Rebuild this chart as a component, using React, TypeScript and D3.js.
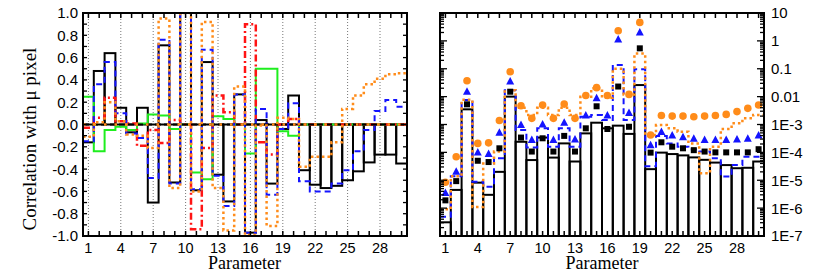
import React from 'react';
import * as d3 from 'd3';

// parameters 1..30, labelled every third one
const params = d3.range(1, 31);
const xTickLabels = [1, 4, 7, 10, 13, 16, 19, 22, 25, 28];
const yTickLabelsLeft = [1.0, 0.8, 0.6, 0.4, 0.2, 0.0, -0.2, -0.4, -0.6, -0.8, -1.0];
const yTickLabelsRight = ['10', '1', '0.1', '0.01', '1E-3', '1E-4', '1E-5', '1E-6', '1E-7'];

// left panel: correlation with mu pixel
const corrBlack = [-0.16, 0.48, 0.64, 0.15, -0.07, 0.15, -0.70, 0.71, -0.52, 1.0, -0.59, 0.56, -0.45, -0.69, 0.27,
  -0.97, 0.04, -0.53, -0.04, 0.26, -0.41, -0.54, -0.57, -0.55, -0.50, -0.42, -0.34, -0.27, -0.27, -0.35];
const corrBlue = [-0.15, 0.36, 0.56, 0.10, -0.08, -0.12, -0.48, 0.76, -0.53, 1.0, -0.58, 0.67, -0.46, -0.73, 0.27,
  -0.97, 0.14, -0.63, -0.04, 0.19, -0.51, -0.60, -0.60, -0.53, -0.41, -0.24, -0.05, 0.12, 0.22, 0.16];
const corrRed = [-0.03, 0.06, 0.24, 0.03, 0.01, -0.19, -0.05, -0.165, 0.04, 0.0, -0.94, -0.21, 0.26, 0.11, 0.0,
  0.90, -0.16, -0.27, 0.0, 0.05, 0.0, 0.0, 0.0, 0.0, 0.0, 0.0, 0.0, 0.0, 0.0, 0.0];
const corrGreen = [0.25, -0.24, -0.05, -0.02, -0.05, 0.01, 0.09, 0.08, -0.04, 0.0, -0.43, -0.49, 0.075, 0.05, 0.0,
  -0.26, 0.50, 0.50, -0.06, -0.10, 0.0, 0.0, 0.0, 0.0, 0.0, 0.0, 0.0, 0.0, 0.0, 0.0];
const corrOrange = [-0.11, 0.02, 0.20, 0.03, -0.09, -0.10, -0.21, 0.95, -0.57, 1.0, -0.60, 0.92, -0.57, -0.95, 0.34,
  -0.99, -0.01, -0.91, 0.06, 0.05, -0.38, -0.29, -0.29, -0.16, 0.14, 0.26, 0.36, 0.41, 0.45, 0.46];

// right panel: log values
const logBlack = [3.1e-7, 4.5e-6, 3.5e-3, 8.2e-6, 3.0e-6, 2.0e-5, 0.01, 2.4e-4, 5.3e-5, 3.4e-4, 6.5e-5, 2.1e-4, 4.7e-5, 4.8e-4, 1.16e-3,
  7.3e-4, 9.1e-4, 4.6e-4, 0.026, 2.5e-5, 9.8e-5, 8.7e-5, 7.8e-5, 6.6e-5, 5.4e-5, 4.3e-5, 3.5e-5, 2.7e-5, 2.8e-5, 4.7e-5];
const logBlue = [4.9e-7, 1.4e-5, 7.6e-3, 8.9e-6, 5.9e-6, 6.2e-5, 0.017, 6.3e-4, 1.5e-4, 7.3e-4, 1.6e-4, 7.3e-4, 1.6e-4, 1.9e-3, 2.2e-3,
  1.45e-3, 0.136, 1.45e-3, 0.095, 3.2e-5, 3.9e-4, 2.1e-4, 1.6e-4, 1.3e-4, 1.07e-4, 6.2e-5, 1.35e-5, 3.5e-5, 7.0e-5, 7.0e-5];
const logOrange = [9.1e-7, 1.4e-5, 7.8e-3, 1.1e-6, 4.0e-5, 1.07e-4, 0.017, 4.0e-3, 2.2e-3, 4.0e-3, 2.2e-3, 4.0e-3, 2.2e-3, 9.8e-3, 0.02,
  9.1e-3, 0.10, 0.012, 0.35, 4.2e-4, 9.6e-4, 7.3e-4, 5.5e-4, 2.1e-4, 1.8e-5, 1.6e-4, 6.9e-4, 1.1e-3, 1.66e-3, 2.2e-3];
const squares = [1.9e-6, 9.3e-6, 5.3e-3, 5.0e-5, 4.5e-5, 1.4e-4, 0.015, 3.4e-4, 1.07e-4, 3.2e-4, 1.07e-4, 3.9e-4, 1.07e-4, 7.3e-4, 4.5e-3,
  6.9e-4, 0.023, 8.3e-4, 0.54, 9.8e-5, 2.3e-4, 1.6e-4, 1.4e-4, 1.2e-4, 1.07e-4, 1.0e-4, 1.0e-4, 1.0e-4, 1.0e-4, 1.3e-4];
const triangles = [3.5e-6, 2.0e-5, 0.015, 9.8e-5, 8.7e-5, 5.1e-4, 0.035, 9.6e-4, 2.8e-4, 1.0e-3, 2.8e-4, 1.16e-3, 2.9e-4, 2.1e-3, 8.7e-3,
  2.1e-3, 1.13, 2.6e-3, 2.0, 1.8e-4, 5.4e-4, 4.0e-4, 3.5e-4, 3.1e-4, 2.8e-4, 2.8e-4, 2.8e-4, 2.9e-4, 3.1e-4, 4.0e-4];
const circles = [8.5e-6, 7.0e-5, 0.037, 2.1e-4, 2.2e-4, 1.4e-3, 0.078, 4.7e-3, 1.66e-3, 5.0e-3, 1.66e-3, 5.4e-3, 1.66e-3, 0.011, 0.021,
  0.011, 2.3, 0.012, 4.6, 4.2e-4, 2.1e-3, 2.0e-3, 2.0e-3, 1.9e-3, 2.0e-3, 2.1e-3, 2.3e-3, 2.9e-3, 3.8e-3, 5.0e-3];

const BLUE = '#1414ff';
const RED = '#ff1414';
const GREEN = '#1eee1e';
const ORANGE = '#ff8c1a';
const SANS = '"Liberation Sans", Arial, sans-serif';
const SERIF = '"Liberation Serif", "Times New Roman", serif';

const top = 13, bottom = 236;
const xL = d3.scaleLinear().domain([0.5, 30.5]).range([83, 407]);
const xR = d3.scaleLinear().domain([0.5, 30.5]).range([440, 764]);
const yL = d3.scaleLinear().domain([-1, 1]).range([bottom, top]);
const yR = d3.scaleLog().domain([1e-7, 10]).range([bottom, top]);

function stepPath(vals: number[], x: any, y: any) {
  const pts: [number, number][] = [];
  vals.forEach((v, i) => {
    pts.push([x(i + 0.5), y(v)], [x(i + 1.5), y(v)]);
  });
  return d3.line()(pts) as string;
}

function Frame({ x, y, ticksY, majorY }: any) {
  const [x0, x1] = x.range();
  const els: any[] = [];
  params.forEach((p) => {
    const len = 5;
    els.push(<line key={'xb' + p} x1={x(p)} x2={x(p)} y1={bottom} y2={bottom - len} stroke="#000" strokeWidth={1.5} />);
    els.push(<line key={'xt' + p} x1={x(p)} x2={x(p)} y1={top} y2={top + len} stroke="#000" strokeWidth={1.5} />);
  });
  ticksY.forEach((t: number, i: number) => {
    const len = majorY(t) ? 7 : 4;
    els.push(<line key={'yl' + i} x1={x0} x2={x0 + len} y1={y(t)} y2={y(t)} stroke="#000" strokeWidth={1.3} />);
    els.push(<line key={'yr' + i} x1={x1} x2={x1 - len} y1={y(t)} y2={y(t)} stroke="#000" strokeWidth={1.3} />);
  });
  return (
    <g>
      {els}
      <rect x={x0} y={top} width={x1 - x0} height={bottom - top} fill="none" stroke="#000" strokeWidth={2} />
    </g>
  );
}

export default function App() {
  const leftTicks = d3.range(-10, 11).map((d) => d / 10);
  const logTicks: number[] = [];
  for (let k = -7; k <= 1; k++) {
    for (let m = 1; m <= 9; m++) {
      const v = m * Math.pow(10, k);
      if (v <= 10.0001) logTicks.push(v);
    }
  }
  const isDecade = (v: number) => Math.abs(Math.log10(v) - Math.round(Math.log10(v))) < 1e-6;

  const barW = xL(1.5) - xL(0.5);

  return (
    <svg width={830} height={277} style={{ position: 'absolute', left: 0, top: 0, background: '#fff' }}>
      <defs>
        <clipPath id="clipL"><rect x={83} y={top} width={324} height={bottom - top} /></clipPath>
        <clipPath id="clipR"><rect x={440} y={top} width={324} height={bottom - top} /></clipPath>
      </defs>

      {/* ---- left panel ---- */}
      <g clipPath="url(#clipL)">
        {xTickLabels.map((p) => (
          <line key={'g' + p} x1={xL(p)} x2={xL(p)} y1={top} y2={bottom} stroke="#777" strokeWidth={1} strokeDasharray="1,2" />
        ))}
        {corrBlack.map((v, i) => (
          <rect key={'b' + i} x={xL(i + 0.5)} width={barW} y={Math.min(yL(v), yL(0))} height={Math.abs(yL(v) - yL(0))}
            fill="none" stroke="#000" strokeWidth={2} />
        ))}
        <path d={stepPath(corrGreen, xL, yL)} fill="none" stroke={GREEN} strokeWidth={2} />
        <path d={stepPath(corrRed, xL, yL)} fill="none" stroke={RED} strokeWidth={2.5} strokeDasharray="7,3,2,3" />
        <path d={stepPath(corrBlue, xL, yL)} fill="none" stroke={BLUE} strokeWidth={2} strokeDasharray="6,4" />
        <line x1={83} x2={407} y1={yL(0)} y2={yL(0)} stroke="#000" strokeWidth={2} strokeDasharray="6,3" />
        <path d={stepPath(corrOrange, xL, yL)} fill="none" stroke={ORANGE} strokeWidth={2.5} strokeDasharray="2.5,3" />
        <line x1={83} x2={407} y1={yL(0)} y2={yL(0)} stroke={ORANGE} strokeWidth={2.5} strokeDasharray="2.5,8" />
      </g>
      <Frame x={xL} y={yL} ticksY={leftTicks} majorY={() => false} />
      {yTickLabelsLeft.map((t) => (
        <text key={'yt' + t} x={78} y={yL(t)} dy="0.36em" textAnchor="end" fontFamily={SANS} fontSize={15}>
          {t.toFixed(1)}
        </text>
      ))}
      {xTickLabels.map((p) => (
        <text key={'xtl' + p} x={xL(p)} y={253} textAnchor="middle" fontFamily={SANS} fontSize={14.5}>{p}</text>
      ))}
      <text x={244.5} y={269} textAnchor="middle" fontFamily={SERIF} fontSize={18}>Parameter</text>
      <text transform="translate(36,139) rotate(-90)" textAnchor="middle" fontFamily={SERIF} fontSize={19}>
        Correlation with μ pixel
      </text>

      {/* ---- right panel ---- */}
      <g clipPath="url(#clipR)">
        {logBlack.map((v, i) => (
          <rect key={'rb' + i} x={xR(i + 0.5)} width={barW} y={yR(v)} height={bottom - yR(v)}
            fill="none" stroke="#000" strokeWidth={2} />
        ))}
        <path d={stepPath(logBlue, xR, yR)} fill="none" stroke={BLUE} strokeWidth={2} strokeDasharray="6,4" />
        <path d={stepPath(logOrange, xR, yR)} fill="none" stroke={ORANGE} strokeWidth={2.5} strokeDasharray="2.5,3" />
      </g>
      {circles.map((v, i) => (
        <circle key={'c' + i} cx={xR(i + 1)} cy={yR(v)} r={3.8} fill={ORANGE} />
      ))}
      {triangles.map((v, i) => {
        const cx = xR(i + 1), cy = yR(v);
        return <path key={'t' + i} d={`M${cx},${cy - 4.5}L${cx + 4},${cy + 3}L${cx - 4},${cy + 3}Z`} fill={BLUE} />;
      })}
      {squares.map((v, i) => (
        <rect key={'s' + i} x={xR(i + 1) - 3} y={yR(v) - 3} width={6} height={6} fill="#000" />
      ))}
      <Frame x={xR} y={yR} ticksY={logTicks} majorY={isDecade} />
      {yTickLabelsRight.map((t, i) => (
        <text key={'yr' + t} x={771} y={yR(Math.pow(10, 1 - i))} dy="0.36em" textAnchor="start" fontFamily={SANS} fontSize={15}>
          {t}
        </text>
      ))}
      {xTickLabels.map((p) => (
        <text key={'xtr' + p} x={xR(p)} y={253} textAnchor="middle" fontFamily={SANS} fontSize={14.5}>{p}</text>
      ))}
      <text x={602} y={269} textAnchor="middle" fontFamily={SERIF} fontSize={18}>Parameter</text>
    </svg>
  );
}
